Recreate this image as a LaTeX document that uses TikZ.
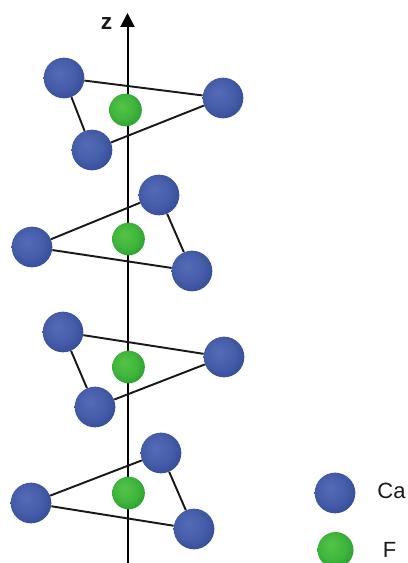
\documentclass[tikz,border=0pt]{standalone}
\usepackage{fontspec}
\setmainfont{Liberation Sans}
\usetikzlibrary{arrows.meta}
\definecolor{caL}{RGB}{84,108,182}
\definecolor{caM}{RGB}{70,94,170}
\definecolor{caD}{RGB}{50,72,150}
\definecolor{caE}{RGB}{38,56,130}
\definecolor{fL}{RGB}{84,196,72}
\definecolor{fM}{RGB}{64,182,60}
\definecolor{fD}{RGB}{38,156,50}
\definecolor{fE}{RGB}{22,124,44}
\pgfdeclareradialshading{cashade}{\pgfpoint{-7bp}{7bp}}{%
  color(0bp)=(caL); color(18bp)=(caM); color(32bp)=(caD); color(50bp)=(caE)}
\pgfdeclareradialshading{fshade}{\pgfpoint{-7bp}{7bp}}{%
  color(0bp)=(fL); color(18bp)=(fM); color(32bp)=(fD); color(50bp)=(fE)}
\tikzset{
  caatom/.style={circle,draw=none,inner sep=0pt,minimum size=30.5pt,shading=cashade},
  fatom/.style={circle,draw=none,inner sep=0pt,minimum size=24.5pt,shading=fshade},
  bond/.style={draw=black!90,line width=1.45pt},
  axisline/.style={draw=black,line width=1.5pt,-{Triangle[length=10.5pt,width=10.5pt]}},
  lbl/.style={inner sep=0pt,text=black!90}
}
\begin{document}
\begin{tikzpicture}[x=0.75pt,y=-0.75pt]
\useasboundingbox (0,0) rectangle (407,563);
\clip (0,0) rectangle (407,563);
\coordinate (zbot) at (127.5,563);
\coordinate (ztop) at (127.5,13);
\draw[axisline] (zbot) -- (ztop);
\node[lbl,font=\bfseries\fontsize{17}{19}\selectfont] (zlabel) at (106.5,23.5) {z};
% atoms layer 1
\node[caatom] (a1) at (64,78) {};
\node[caatom] (a2) at (223,98) {};
\node[caatom] (a3) at (92,150) {};
\node[fatom]  (f1) at (125.5,110) {};
% layer 2
\node[caatom] (b1) at (159,195) {};
\node[caatom] (b2) at (32,247) {};
\node[caatom] (b3) at (192,271) {};
\node[fatom]  (f2) at (128.5,239) {};
% layer 3
\node[caatom] (c1) at (63,332) {};
\node[caatom] (c2) at (224,357) {};
\node[caatom] (c3) at (95,407) {};
\node[fatom]  (f3) at (128.5,367) {};
% layer 4
\node[caatom] (d1) at (161,453) {};
\node[caatom] (d2) at (31,503) {};
\node[caatom] (d3) at (194,529) {};
\node[fatom]  (f4) at (128.5,493) {};
% bonds
\draw[bond] (a1) -- (a2);
\draw[bond] (a2) -- (a3);
\draw[bond] (a1) -- (a3);
\draw[bond] (b1) -- (b2);
\draw[bond] (b2) -- (b3);
\draw[bond] (b1) -- (b3);
\draw[bond] (c1) -- (c2);
\draw[bond] (c2) -- (c3);
\draw[bond] (c1) -- (c3);
\draw[bond] (d1) -- (d2);
\draw[bond] (d2) -- (d3);
\draw[bond] (d1) -- (d3);
% legend
\node[caatom] (lca) at (335,493) {};
\node[fatom,minimum size=27pt] (lf) at (335.5,550) {};
\node[lbl,font=\fontsize{16.5}{19}\selectfont] (tca) at (391.5,490.5) {Ca};
\node[lbl,font=\fontsize{16.5}{19}\selectfont] (tf) at (389.5,549.5) {F};
\end{tikzpicture}
\end{document}
